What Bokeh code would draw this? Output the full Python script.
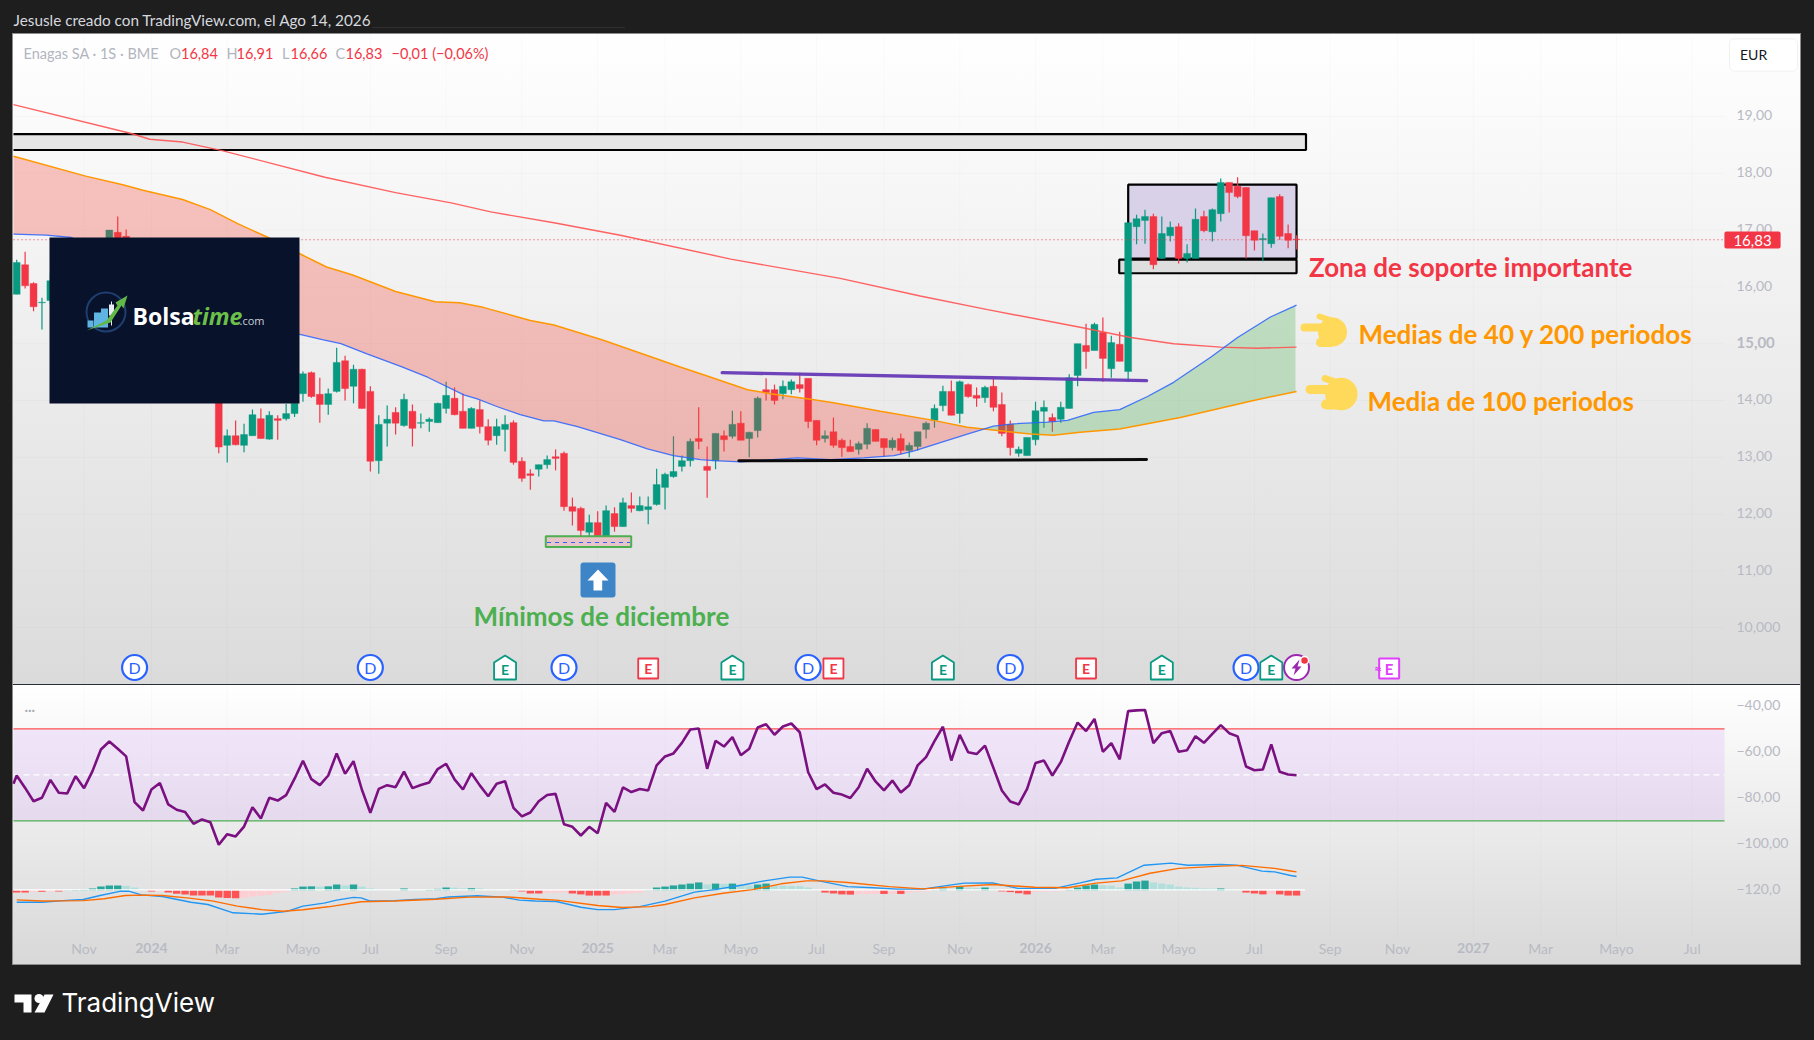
import numpy as np
from bokeh.plotting import figure
from bokeh.layouts import column
from bokeh.models import Range1d, LinearAxis, FixedTicker, Label
from bokeh.core.properties import value
from bokeh.embed import file_html
from bokeh.resources import INLINE

FONT = "Lato"
RED, GREEN = "#f23645", "#089981"
AXIS_TXT = "#b8bac3"

# ---- weekly candles (bar number, OHLC); bars 5-10 and 14-23 lie behind the logo
candle_bars = [0, 1, 2, 3, 4, 11, 12, 13] + list(range(24, 153))
opens = [15.87,16.39,16.06,15.72,15.76, 16.50,16.96,16.89,
 14.10,13.21,13.38,13.21,13.38,13.68,13.32,13.68,13.68,13.77,
 14.12,14.49,14.11,13.93,14.16,14.70,14.25,14.55,14.16,12.94,
 13.60,13.79,13.56,13.81,13.60,13.63,13.61,13.86,14.04,13.81,
 13.51,13.84,13.54,13.38,13.49,13.61,12.93,12.71,12.79,12.87,
 13.01,13.07,12.13,12.10,11.68,11.85,11.60,12.01,11.78,12.15,
 12.06,12.08,12.17,12.47,12.66,12.84,12.94,13.33,12.84,12.94,
 13.38,13.37,13.60,13.33,13.47,14.19,14.19,14.12,14.19,14.28,
 14.39,13.65,13.33,13.45,13.30,13.19,13.14,13.23,13.49,13.33,
 13.17,13.33,13.12,13.19,13.49,13.65,13.91,14.16,13.77,14.28,
 14.09,14.05,14.25,13.93,13.58,13.07,13.03,13.31,13.81,13.70,
 13.67,13.86,14.44,14.97,14.88,15.20,14.56,14.99,14.51,17.06,
 17.17,17.24,16.50,16.90,17.06,16.50,16.50,17.24,16.97,17.29,
 17.84,17.77,17.75,16.99,16.83,16.76,17.59,16.94,16.84]
highs = [16.48,16.62,16.08,15.81,16.25, 17.00,17.24,17.01,
 14.20,13.49,13.65,13.59,13.84,13.86,13.81,13.74,13.94,14.05,
 14.51,14.51,14.40,14.21,14.93,14.79,14.63,14.56,14.25,13.74,
 13.91,13.88,14.12,13.93,13.77,13.70,13.96,14.33,14.23,14.12,
 13.88,14.00,13.67,13.68,13.74,13.65,13.00,12.79,12.87,13.03,
 13.14,13.10,12.29,12.13,11.99,12.05,12.15,12.12,12.29,12.38,
 12.31,12.31,12.80,12.73,13.37,13.03,13.33,13.88,13.19,13.42,
 13.47,13.82,13.81,13.45,14.07,14.39,14.28,14.35,14.37,14.49,
 14.39,13.65,13.47,13.70,13.33,13.31,13.28,13.60,13.49,13.33,
 13.35,13.42,13.26,13.45,13.63,13.93,14.26,14.35,14.35,14.30,
 14.23,14.26,14.39,14.14,13.65,13.19,13.35,13.98,14.00,13.77,
 13.98,14.46,15.00,15.35,15.37,15.46,15.14,15.21,17.13,17.27,
 17.36,17.29,17.24,17.15,17.12,16.75,17.38,17.34,17.38,17.91,
 17.84,17.93,17.75,16.99,16.94,17.57,17.63,17.10,16.91]
lows = [15.87,15.97,15.57,15.25,15.70, 16.40,16.40,16.30,
 13.07,12.91,13.21,13.09,13.38,13.33,13.31,13.31,13.65,13.71,
 13.98,14.05,13.61,13.75,14.14,14.00,13.95,13.86,12.75,12.71,
 13.19,13.40,13.54,13.19,13.51,13.45,13.61,13.77,13.74,13.51,
 13.51,13.42,13.21,13.22,13.10,12.87,12.57,12.43,12.66,12.80,
 12.77,12.06,11.80,11.57,11.59,11.62,11.59,11.69,11.78,12.03,
 12.05,11.82,12.15,12.08,12.64,12.75,12.84,13.14,12.29,12.79,
 13.10,13.33,13.30,13.00,13.35,14.00,13.93,14.02,14.11,14.14,
 13.51,13.21,13.26,13.17,13.01,13.10,13.05,13.14,13.28,13.01,
 13.12,13.05,13.00,13.12,13.33,13.52,13.81,13.74,13.60,14.05,
 13.89,13.96,13.81,13.37,13.03,13.01,13.03,13.21,13.52,13.45,
 13.61,13.86,14.25,14.56,14.88,14.33,14.40,14.69,14.33,16.75,
 16.76,16.31,16.49,16.80,16.41,16.43,16.50,16.96,16.80,17.15,
 17.31,17.56,16.50,16.64,16.45,16.69,16.83,16.68,16.66]
closes = [16.43,16.02,15.65,15.73,16.11, 17.00,16.50,16.45,
 13.18,13.38,13.22,13.40,13.75,13.33,13.74,13.65,13.77,13.95,
 14.47,14.07,13.93,14.12,14.67,14.21,14.55,13.86,12.93,13.58,
 13.67,13.60,14.02,13.51,13.61,13.67,13.95,14.09,13.75,13.51,
 13.86,13.54,13.30,13.54,13.58,12.91,12.63,12.68,12.87,12.96,
 12.98,12.13,12.05,11.71,11.85,11.62,12.06,11.78,12.20,12.10,
 12.15,12.13,12.52,12.70,12.75,12.94,13.28,13.28,12.77,13.42,
 13.31,13.58,13.30,13.44,14.04,14.14,14.00,14.25,14.33,14.21,
 13.63,13.30,13.38,13.21,13.17,13.10,13.24,13.51,13.28,13.17,
 13.30,13.12,13.21,13.45,13.60,13.86,14.16,13.74,14.33,14.07,
 14.04,14.23,13.88,13.42,13.17,13.14,13.35,13.82,13.88,13.63,
 13.88,14.40,15.00,14.86,15.34,14.74,15.02,14.69,17.13,17.20,
 17.24,16.39,16.94,17.05,16.50,16.59,17.19,16.99,17.36,17.84,
 17.66,17.59,16.90,16.82,16.85,17.57,16.89,16.82,16.83]

# ---- moving averages (bar number, value)
ma200_bars = [-0.38,13.6,15.8,19.7,24.4,36.6,45,51.6,56.3,63.8,71.7,84.8,97.8,107.3,115.3,126.3,132.3,137.4,143,147.3,152]
ma200_vals = [19.21,18.70,18.60,18.55,18.40,17.93,17.66,17.48,17.32,17.13,16.91,16.49,16.15,15.84,15.60,15.29,15.11,15.00,14.94,14.92,14.94]
ma100_bars = [-0.38,8.2,12.6,15,19.7,23,26.3,30,33.8,36.8,39.9,45,49.7,52.6,55.4,61,63.8,69.5,78.8,82,86.8,89.5,94.3,97,102.6,108.9,112.9,116.5,120.4,123.1,126.3,131,138.2,146.9,152]
ma100_vals = [18.30,17.95,17.80,17.70,17.54,17.36,17.11,16.86,16.57,16.35,16.21,15.92,15.74,15.72,15.64,15.41,15.33,15.07,14.59,14.43,14.19,14.12,14.02,13.96,13.81,13.65,13.53,13.47,13.41,13.39,13.44,13.50,13.70,14.00,14.16]
ma40_bars = [-0.38,3.5,6.5,33.5,36.3,38.5,41.6,45.6,48.8,53.1,54.7,57.1,59.8,62.6,63.8,66.6,71.7,74.9,78,81.2,82.8,86,92.7,96.7,100.6,104.2,106.5,109.7,112.9,116,118.4,122.4,124.8,127.9,131,134.3,137.4,141.8,145,148.9,152]
ma40_vals = [16.93,16.91,16.87,15.17,15.07,15.00,14.82,14.60,14.41,14.10,14.03,13.89,13.75,13.64,13.64,13.54,13.31,13.15,13.03,12.96,12.94,12.92,12.99,12.96,12.99,13.03,13.11,13.26,13.41,13.55,13.59,13.62,13.65,13.79,13.84,14.07,14.32,14.76,15.11,15.47,15.68]

# ---- oscillator pane, one value per bar from bar 0
rsi_before_first_bar = -73.9
rsi = [-70.3,-75.7,-81.5,-80,-72.2,-77.8,-78.1,-70.6,-75.8,-68.4,
 -59,-55.5,-58.7,-62,-81.9,-85.5,-76.4,-73.6,-82.9,-85.2,
 -86.2,-91.3,-89.4,-90.6,-100.4,-95.8,-96.8,-92.5,-84.1,-89,
 -80,-81.2,-78.8,-71.7,-63.9,-71.9,-74.5,-70.3,-60.7,-69.6,
 -64.1,-76.5,-86.5,-76.1,-74.5,-75.4,-68.6,-75.8,-74.4,-73.3,
 -67.5,-65.2,-72,-76.4,-69.3,-74.6,-79.3,-73.9,-72.8,-84.4,
 -88.1,-86.4,-81.5,-78.8,-78.3,-91.5,-92.6,-96.4,-92.6,-95.4,
 -82.2,-86.1,-75.5,-77.5,-76.2,-76.8,-65.9,-62,-60.7,-56.1,
 -50.3,-49.9,-67.4,-55.2,-57.7,-53.6,-61.5,-58.7,-49.4,-48,
 -52.6,-49,-47.7,-51.5,-68.9,-76.2,-74.2,-77.8,-78.6,-80.1,
 -75.4,-67.4,-72.9,-76.8,-72.5,-77.7,-74.5,-65.9,-62.3,-55.4,
 -49.1,-63.8,-52.6,-60.2,-61,-57.3,-67,-76.8,-81.6,-82.9,
 -76.1,-64.9,-63.8,-70.3,-64.5,-55.5,-47.3,-51,-45.7,-60,
 -56.2,-63.3,-42.3,-42,-41.8,-56.2,-51.9,-51,-60,-59.3,
 -53.2,-56.1,-52.2,-48.4,-51.9,-53.3,-66.4,-68,-67.7,-56.8,
 -68.7,-69.9,-70.2]
hist = [-0.9,-0.9,-0.6,-0.6,-0.4,-0.4,0.1,0.2,0.3,0.9,
 1.7,2.2,2.2,2.1,1.3,0.4,-0.4,-0.3,-0.9,-1.4,
 -1.7,-2.2,-2.2,-2.2,-3.0,-3.3,-3.4,-3.2,-2.6,-2.3,
 -1.9,-1.0,-0.6,0.9,1.7,1.8,1.7,1.8,2.6,2.2,
 2.6,1.7,0.9,0.3,0.2,0.1,0.9,0.3,0.2,0.3,
 0.7,1.3,1.2,0.9,1.0,0.9,0.3,0.2,0.1,0.15,
 -0.4,-1.3,-1.3,-1.0,-0.9,-0.8,-1.3,-1.7,-2.2,-2.2,
 -2.2,-1.7,-1.6,-1.2,-0.9,0.1,1.3,1.7,2.2,2.6,
 3.0,3.5,2.6,3.0,2.9,3.0,2.6,2.2,2.6,3.0,
 2.2,2.1,2.0,1.9,1.3,0.3,-0.9,-1.3,-1.7,-1.8,
 -1.6,-1.5,-1.4,-1.5,-1.4,-1.5,-0.9,-0.6,-0.4,0.1,
 0.8,0.7,1.6,1.2,1.1,1.3,0.7,-0.4,-0.7,-1.2,
 -1.7,-0.6,-0.5,-0.4,-0.3,0.3,1.3,2.2,2.6,2.2,
 2.1,1.3,3.0,3.9,4.3,3.5,3.0,2.6,1.7,1.3,
 1.2,0.9,0.8,0.9,0.7,0.3,-0.9,-1.3,-1.7,-1.5,
 -1.7,-2.2,-2.2]
macd_bars = [0,3,5.5,7.9,9.9,12.4,13.3,14.8,17.3,20.7,22.7,25.7,29.1,32.1,34,36.5,38,40,40.9,41.9,44.9,47.3,49.8,51.3,54.7,57.7,59.7,61.6,64.1,67,69,71,74,77,80.5,82.9,86.4,88.8,91.8,93.3,95.3,98.7,101.7,104.6,107.6,110,112.5,115.9,118.9,123.3,126.3,128.2,130.7,132.2,133.9,137.1,139.1,143,144.9,147.9,149.4,151.3,152]
macd_vals = [-125.4,-125.4,-124.7,-124.2,-122.5,-120.6,-120.6,-122.2,-122.9,-125.4,-126.4,-130,-130.6,-129.4,-127.1,-125.8,-124.5,-123.3,-123.5,-124.8,-124.7,-124.2,-123.9,-123.1,-122.6,-123.2,-124.5,-124.9,-125.1,-127.6,-128.6,-128.6,-127.3,-124.9,-121,-119.9,-117.8,-116.1,-114.5,-114.5,-116.1,-118.6,-119.1,-119.7,-119.7,-118.4,-117.1,-117,-119.4,-119.4,-117,-115.4,-114.8,-112.2,-109.3,-108.4,-109.3,-109,-109.3,-111.9,-112.2,-113.8,-114.2]
signal_bars = [0,3,7.9,10.4,12.9,14.8,17.3,20.2,23.2,26.2,29.1,31.6,34,37,40.9,44.9,49.8,53.7,58.2,62.1,64.1,69,71.9,75.3,77,80.5,83.9,87.4,90.8,93.8,95.8,98.7,103.6,107.6,111.5,115.9,120.9,124.8,128.2,131.2,134.6,138,143,145.5,149.4,151.3,152]
signal_vals = [-124.4,-124.9,-124.7,-123.9,-122.5,-122.3,-122.5,-123.5,-124.8,-127.1,-128.6,-129.3,-128.7,-127.4,-125.2,-124.9,-124.1,-123.2,-123.1,-124.1,-124.5,-126.8,-127.7,-127.3,-126.4,-123.5,-121.5,-119.9,-117.4,-116.1,-116.1,-116.8,-118.6,-119.6,-118.6,-117.7,-118.9,-119.1,-117.1,-116.1,-112.8,-110.7,-109.7,-109.4,-110.7,-111.8,-112.2]
hist_base = -120.3

# ---- axis ticks
price_ticks = [19, 18, 17, 16, 14, 13, 12, 11, 10]
price_labels = ["19,00", "18,00", "17,00", "16,00", "14,00", "13,00", "12,00", "11,00", "10,000"]
osc_ticks = [-40, -60, -80, -100, -120]
osc_labels = ["−40,00", "−60,00", "−80,00", "−100,00", "−120,0"]
month_ticks = [8, 25, 34, 42, 51, 60, 77, 86, 95, 103, 112, 129, 138, 147, 156, 164, 181, 190, 199]
month_labels = ["Nov", "Mar", "Mayo", "Jul", "Sep", "Nov", "Mar", "Mayo", "Jul", "Sep", "Nov", "Mar", "Mayo", "Jul", "Sep", "Nov", "Mar", "Mayo", "Jul"]
year_ticks = [16, 69, 121, 173]
year_labels = ["2024", "2025", "2026", "2027"]

# ---- event markers (bar number)
d_bars = [14, 42, 65, 94, 118, 146]
e_green_bars = [58, 85, 110, 136, 149]
e_red_bars = [75, 97, 127]
bolt_bar = 152
e_next_bar = 163


def bx(X):
    return (X - 16.2) / 8.42


def vy(Y):
    return 19 - (Y - 116) / 56.8


def ov(Y):
    return -70 - (Y - 774.3) / 2.3


def add_text(fig, text, X, Y, color, size, origin, bold=False, italic=False, align="left", font=FONT, **kw):
    style = "bold italic" if bold and italic else "bold" if bold else "italic" if italic else "normal"
    fig.add_layout(Label(x=X - 8, y=Y - origin, x_units="canvas", y_units="canvas", text=text,
                         text_color=color, text_font_size=f"{size}px", text_font=font,
                         text_font_style=style, text_align=align, text_baseline="middle", **kw))


def style_axis(ax, size=14):
    ax.axis_line_color = None
    ax.major_tick_line_color = None
    ax.minor_tick_line_color = None
    ax.major_tick_out = 0
    ax.major_tick_in = 0
    ax.minor_tick_out = 0
    ax.minor_tick_in = 0
    ax.major_label_text_color = AXIS_TXT
    ax.major_label_text_font = FONT
    ax.major_label_text_font_size = f"{size}px"


common = dict(output_backend="svg", toolbar_location=None, tools="", background_fill_color=None,
              border_fill_color=None, outline_line_color=None, x_axis_location=None, y_axis_location=None,
              min_border=0, x_axis_type="linear")

# =================== price pane ===================
p1 = figure(width=1798, height=676, x_range=Range1d(bx(8), bx(1806)), y_range=Range1d(vy(684), vy(8)), **common)
p1.grid.visible = False
p1.styles = {"background": "linear-gradient(180deg,#ffffff,#dbdbdb) 5px 26px/1787px 650px no-repeat,"
                           "linear-gradient(#8c8c8c,#8c8c8c) 4px 25px/1789px 651px no-repeat,"
                           "linear-gradient(#2f2f2f,#2f2f2f) 364px 19px/253px 1px no-repeat,#1e1e1e"}
# the reference's tick labels sit about one pixel above their grid position
LABEL_NUDGE_PRICE = 0.018
LABEL_NUDGE_OSC = 0.55
price_pos = [t + LABEL_NUDGE_PRICE for t in price_ticks]
ya = LinearAxis(fixed_location=bx(1724), ticker=FixedTicker(ticks=price_pos),
                major_label_overrides=dict(zip(price_pos, price_labels)), major_label_standoff=12)
style_axis(ya)
p1.add_layout(ya, "right")
ya15 = LinearAxis(fixed_location=bx(1724), ticker=FixedTicker(ticks=[15 + LABEL_NUDGE_PRICE]),
                  major_label_overrides={15 + LABEL_NUDGE_PRICE: "15,00"}, major_label_standoff=12)
style_axis(ya15, 15)
ya15.major_label_text_font_style = "bold"
p1.add_layout(ya15, "right")
vlines = sorted(month_ticks + year_ticks)
p1.segment(vlines, [vy(34)] * len(vlines), vlines, [vy(684)] * len(vlines), line_color="#000000", line_alpha=0.02)
p1.segment([bx(13)] * 10, price_ticks + [15], [bx(1724)] * 10, price_ticks + [15], line_color="#000000", line_alpha=0.02)

# drawings below the candles
p1.quad(left=[bx(13)], right=[bx(1305.5)], top=[18.69], bottom=[18.41], fill_color="#e5e5e5", line_color=None)
p1.line([bx(13), bx(1305.5), bx(1305.5), bx(13)], [18.69, 18.69, 18.41, 18.41], line_color="#000000", line_width=2.2)
p1.quad(left=[bx(1127.7)], right=[152], top=[17.80], bottom=[16.50], fill_color="#d9d1e8", line_color="#000000", line_width=2.2)
p1.quad(left=[bx(1118.7)], right=[152], top=[16.48], bottom=[16.24], fill_color="#dedede", line_color="#000000", line_width=2.2)

# candles
c_o, c_h, c_l, c_c = map(np.array, (opens, highs, lows, closes))
c_x = np.array(candle_bars)
c_col = [GREEN if c >= o else RED for o, c in zip(opens, closes)]
p1.segment(x0=c_x, x1=c_x, y0=c_l, y1=c_h, line_color=c_col, line_width=1.2)
p1.vbar(x=c_x, width=0.82, top=np.maximum(c_o, c_c), bottom=np.minimum(c_o, c_c), fill_color=c_col, line_color=c_col, line_width=0.4)

# moving average fill
fill_x = np.arange(-0.38, 152.01, 0.25)
fill_o = np.interp(fill_x, ma100_bars, ma100_vals)
fill_b = np.interp(fill_x, ma40_bars, ma40_vals)
cross = int(np.argmax(fill_b > fill_o))
p1.varea(x=fill_x[:cross + 1], y1=fill_o[:cross + 1], y2=fill_b[:cross + 1], fill_color="#f44336", fill_alpha=0.3)
p1.varea(x=fill_x[cross:], y1=fill_o[cross:], y2=fill_b[cross:], fill_color="#4caf50", fill_alpha=0.3)
p1.line(ma200_bars, ma200_vals, line_color="#ff5252", line_width=1.4, line_alpha=0.9)
p1.line(ma100_bars, ma100_vals, line_color="#ff9800", line_width=1.5)
p1.line(ma40_bars, ma40_vals, line_color="#2962ff", line_width=1.3, line_alpha=0.85)

# trend lines
p1.line([bx(721.7), bx(1146)], [14.49, 14.35], line_color="#673ab7", line_width=3.4, line_alpha=0.95, line_cap="round")
p1.line([bx(738.3), bx(1146)], [12.94, 12.96], line_color="#000000", line_width=3, line_alpha=0.95, line_cap="round")
p1.line([bx(13), bx(1724)], [16.83, 16.83], line_color=RED, line_width=1, line_dash="1 3")

# December low box
p1.quad(left=[bx(545.3)], right=[bx(630.7)], top=[11.61], bottom=[11.42], fill_color="#e6c4c8", line_color="#4caf50", line_width=2)
p1.line([bx(546.5), bx(629.5)], [11.50, 11.50], line_color="#2962ff", line_width=1, line_dash="4 4")

# arrow icon
p1.quad(left=[bx(580)], right=[bx(615)], top=[vy(562)], bottom=[vy(597)], fill_color="#3d85c6", line_color=None, border_radius=3)
p1.patch([bx(t) for t in (597.5, 608, 601.7, 601.7, 593, 593, 587)],
         [vy(t) for t in (569, 580, 580, 590, 590, 580, 580)], fill_color="#ffffff", line_color=None)

# hands
HAND = "#ffd95a"
for hx, hy, k in ((0, 0, 1.0), (5.5, 62, 1.12)):
    p1.line([bx(1304 + hx), bx(1330 + hx)], [vy(327 + hy)] * 2, line_color=HAND, line_width=8 * k, line_cap="round")
    p1.line([bx(1319 + hx), bx(1334 + hx)], [vy(316 + hy), vy(321 + hy)], line_color=HAND, line_width=6 * k, line_cap="round")
    p1.scatter([bx(1332 + hx * 1.6)], [vy(331.5 + hy)], size=29 * k, marker="circle", fill_color=HAND, line_color=None)
    p1.line([bx(1320 + hx), bx(1330 + hx)], [vy(342 + hy)] * 2, line_color=HAND, line_width=9 * k, line_cap="round")

# event markers
Y0 = 667
p1.scatter(d_bars, [vy(Y0)] * len(d_bars), size=25, marker="circle", fill_color="#ffffff", line_color="#2962ff", line_width=2.2)
p1.text(d_bars, [vy(Y0)] * len(d_bars), text=["D"] * len(d_bars), text_color="#2962ff", text_font=value(FONT),
        text_font_size="16px", text_align="center", text_baseline="middle")
house = ((-11, 12), (11, 12), (11, -5), (0, -12), (-11, -5))
for b in e_green_bars:
    cx = 16.2 + 8.42 * b
    p1.patch([bx(cx + a) for a, _ in house], [vy(Y0 + c) for _, c in house], fill_color="#ffffff", line_color=GREEN, line_width=1.8)
tag = ((-10, 11), (10, 11), (10, -9), (-10, -9))
for b in e_red_bars:
    cx = 16.2 + 8.42 * b
    p1.patch([bx(cx + a) for a, _ in tag], [vy(Y0 + c) for _, c in tag], fill_color="#ffffff", line_color=RED, line_width=1.8)
p1.text(e_green_bars, [vy(Y0 + 2)] * len(e_green_bars), text=["E"] * len(e_green_bars), text_color=GREEN, text_font=value(FONT),
        text_font_style="bold", text_font_size="14px", text_align="center", text_baseline="middle")
p1.text(e_red_bars, [vy(Y0 + 1)] * len(e_red_bars), text=["E"] * len(e_red_bars), text_color=RED, text_font=value(FONT),
        text_font_style="bold", text_font_size="14px", text_align="center", text_baseline="middle")
p1.scatter([bolt_bar], [vy(Y0)], size=25, marker="circle", fill_color="#ffffff", line_color="#9c27b0", line_width=2)
cx = 16.2 + 8.42 * bolt_bar
bolt = ((3, -8), (-5, 1), (-1, 1), (-3, 8), (5, -1), (1, -1))
p1.patch([bx(cx + a) for a, _ in bolt], [vy(Y0 + c) for _, c in bolt], fill_color="#9c27b0", line_color=None)
p1.scatter([bx(cx + 8)], [vy(Y0 - 7)], size=8, marker="circle", fill_color=RED, line_color="#ffffff", line_width=1.5)
cx = 16.2 + 8.42 * e_next_bar
p1.patch([bx(cx + a) for a, _ in tag], [vy(Y0 + c) for _, c in tag], fill_color="#ffffff", line_color="#e040fb", line_width=2)
p1.text([e_next_bar], [vy(Y0 + 1)], text=["E"], text_color="#e040fb", text_font=value(FONT), text_font_style="bold",
        text_font_size="15px", text_align="center", text_baseline="middle")
p1.text([bx(cx - 11)], [vy(Y0 + 1)], text=["≈"], text_color="#e040fb", text_font=value(FONT), text_font_style="bold",
        text_font_size="14px", text_align="center", text_baseline="middle")

# logo block
p1.quad(left=[bx(49)], right=[bx(299)], top=[vy(237)], bottom=[vy(403)], fill_color="#08122b", line_color=None)
p1.scatter([bx(105.5)], [vy(311.5)], size=39, marker="circle", fill_color=None, line_color="#1f3f70", line_width=2)
for a, t, w in ((90, 320, 3), (97, 312, 3.5), (104, 308, 3.5)):
    p1.quad(left=[bx(a - w)], right=[bx(a + w)], top=[vy(t)], bottom=[vy(327)], fill_color="#5fb4e2", line_color=None)
p1.segment([bx(111)], [vy(301)], [bx(111)], [vy(325)], line_color="#e8edf3", line_width=1)
p1.quad(left=[bx(108.5)], right=[bx(113.5)], top=[vy(304)], bottom=[vy(315)], fill_color="#e8edf3", line_color=None)
p1.patch([bx(t) for t in (86, 106, 117, 115, 127, 123, 121, 110)],
         [vy(t) for t in (330, 320, 305, 302, 295, 308, 305, 322)], fill_color="#62b846", line_color=None)
add_text(p1, "Bolsa", 132, 315, "#ffffff", 23, 8, bold=True, font="Open Sans")
add_text(p1, "time", 192, 315, "#6cc04a", 23, 8, bold=True, italic=True, font="Open Sans")
add_text(p1, ".com", 239, 320, "#c9ced8", 11, 8, font="Open Sans")

# header and legend
add_text(p1, "Jesusle creado con TradingView.com, el Ago 14, 2026", 13, 19.5, "#d6d8de", 15.3, 8)
legend_grey = [("Enagas SA · 1S · BME", 23), ("O", 169), ("H", 226), ("L", 281.5), ("C", 335)]
legend_red = [("16,84", 180.5), ("16,91", 236), ("16,66", 290), ("16,83", 345), ("−0,01 (−0,06%)", 391)]
for t, X in legend_grey:
    add_text(p1, t, X, 53, "#b2b5be", 14.5, 8)
for t, X in legend_red:
    add_text(p1, t, X, 53, RED, 14.5, 8)

# annotations
ANN = 26
add_text(p1, "Zona de soporte importante", 1308.5, 266.8, RED, ANN, 8, bold=True)
add_text(p1, "Medias de 40 y 200 periodos", 1358, 333.3, "#ff9800", ANN, 8, bold=True)
add_text(p1, "Media de 100 periodos", 1367, 400.3, "#ff9800", ANN, 8, bold=True)
add_text(p1, "Mínimos de diciembre", 473, 615.8, "#4caf50", ANN, 8, bold=True)

# currency button and last-price tag
p1.quad(left=[bx(1729)], right=[bx(1797)], top=[vy(38.3)], bottom=[vy(70.7)], fill_color="#ffffff", line_color="#f0f0f0", border_radius=5)
add_text(p1, "EUR", 1739.5, 53.5, "#131722", 14, 8)
p1.add_layout(Label(x=1752 - 8, y=239.5 - 8, x_units="canvas", y_units="canvas", text="16,83", text_color="#ffffff",
                    text_font=FONT, text_font_size="15px", text_align="center", text_baseline="middle",
                    background_fill_color=RED, padding=(9, 3), border_radius=2))

# =================== oscillator pane ===================
p2 = figure(width=1798, height=281, x_range=p1.x_range, y_range=Range1d(ov(965), ov(684)), **common)
p2.grid.visible = False
p2.styles = {"background": "linear-gradient(#2a2e39,#2a2e39) 5px 0/1787px 1px no-repeat,"
                           "linear-gradient(180deg,#ffffff,#d8d8d8) 5px 0/1787px 280px no-repeat,"
                           "linear-gradient(#8c8c8c,#8c8c8c) 4px 0/1789px 281px no-repeat,#1e1e1e"}
osc_pos = [t + LABEL_NUDGE_OSC for t in osc_ticks]
ya2 = LinearAxis(fixed_location=bx(1724), ticker=FixedTicker(ticks=osc_pos),
                 major_label_overrides=dict(zip(osc_pos, osc_labels)), major_label_standoff=12)
style_axis(ya2)
p2.add_layout(ya2, "right")
xa = LinearAxis(fixed_location=ov(936), ticker=FixedTicker(ticks=month_ticks),
                major_label_overrides=dict(zip(month_ticks, month_labels)), major_label_standoff=3)
style_axis(xa)
p2.add_layout(xa, "below")
xa_y = LinearAxis(fixed_location=ov(936), ticker=FixedTicker(ticks=year_ticks),
                  major_label_overrides=dict(zip(year_ticks, year_labels)), major_label_standoff=6)
style_axis(xa_y)
xa_y.major_label_text_font_style = "bold"
p2.add_layout(xa_y, "below")
p2.segment(vlines, [ov(684)] * len(vlines), vlines, [ov(936)] * len(vlines), line_color="#000000", line_alpha=0.02)

p2.quad(left=[bx(13)], right=[bx(1724)], top=[-50], bottom=[-90], fill_color="#aa3cff", fill_alpha=0.1, line_color=None)
p2.line([bx(13), bx(1724)], [-50, -50], line_color="#ff5252", line_width=1.2)
p2.line([bx(13), bx(1724)], [-90, -90], line_color="#4caf50", line_width=1.2)
p2.line([bx(13), bx(1724)], [-70, -70], line_color="#ffffff", line_width=1.2, line_dash="6 4")
p2.line([bx(13)] + list(range(len(rsi))), [rsi_before_first_bar] + rsi, line_color="#7b1180", line_width=2.6)

h_col = []
for k, h in enumerate(hist):
    prev = hist[k - 1] if k else h
    if h >= 0:
        h_col.append("#26a69a" if h >= prev else "#b2dfdb")
    else:
        h_col.append("#ff5252" if h <= prev else "#ffcdd2")
h_arr = np.array(hist)
p2.vbar(x=list(range(len(hist))), width=0.88, top=hist_base + np.maximum(h_arr, 0), bottom=hist_base + np.minimum(h_arr, 0),
        fill_color=h_col, line_color=None)
p2.line([bx(13), 153], [-120, -120], line_color="#ffffff", line_width=1.3)
p2.line(macd_bars, macd_vals, line_color="#2196f3", line_width=1.4)
p2.line(signal_bars, signal_vals, line_color="#ff6d00", line_width=1.4)
add_text(p2, "...", 24, 706, "#a8abb4", 15, 684, bold=True)

# =================== footer ===================
p3 = figure(width=1798, height=67, x_range=Range1d(8, 1806), y_range=Range1d(1032, 965), **common)
p3.grid.visible = False
p3.styles = {"background": "#1e1e1e"}
p3.patch([14, 31, 31, 23, 23, 14], [994, 994, 1012, 1012, 1002, 1002], fill_color="#ffffff", line_color=None)
p3.scatter([38.5], [998], size=9, marker="circle", fill_color="#ffffff", line_color=None)
p3.patch([44, 53, 44, 34], [994, 994, 1012, 1012], fill_color="#ffffff", line_color=None)
add_text(p3, "TradingView", 61, 1002, "#ffffff", 26, 965, font="Inter")

html = file_html(column(p1, p2, p3), INLINE)
html = html.replace("</head>", "<style>html{margin:0;background:#1e1e1e;overflow:hidden}body{margin:8px !important;background:#1e1e1e}</style></head>")
open("out.html", "w").write(html)
